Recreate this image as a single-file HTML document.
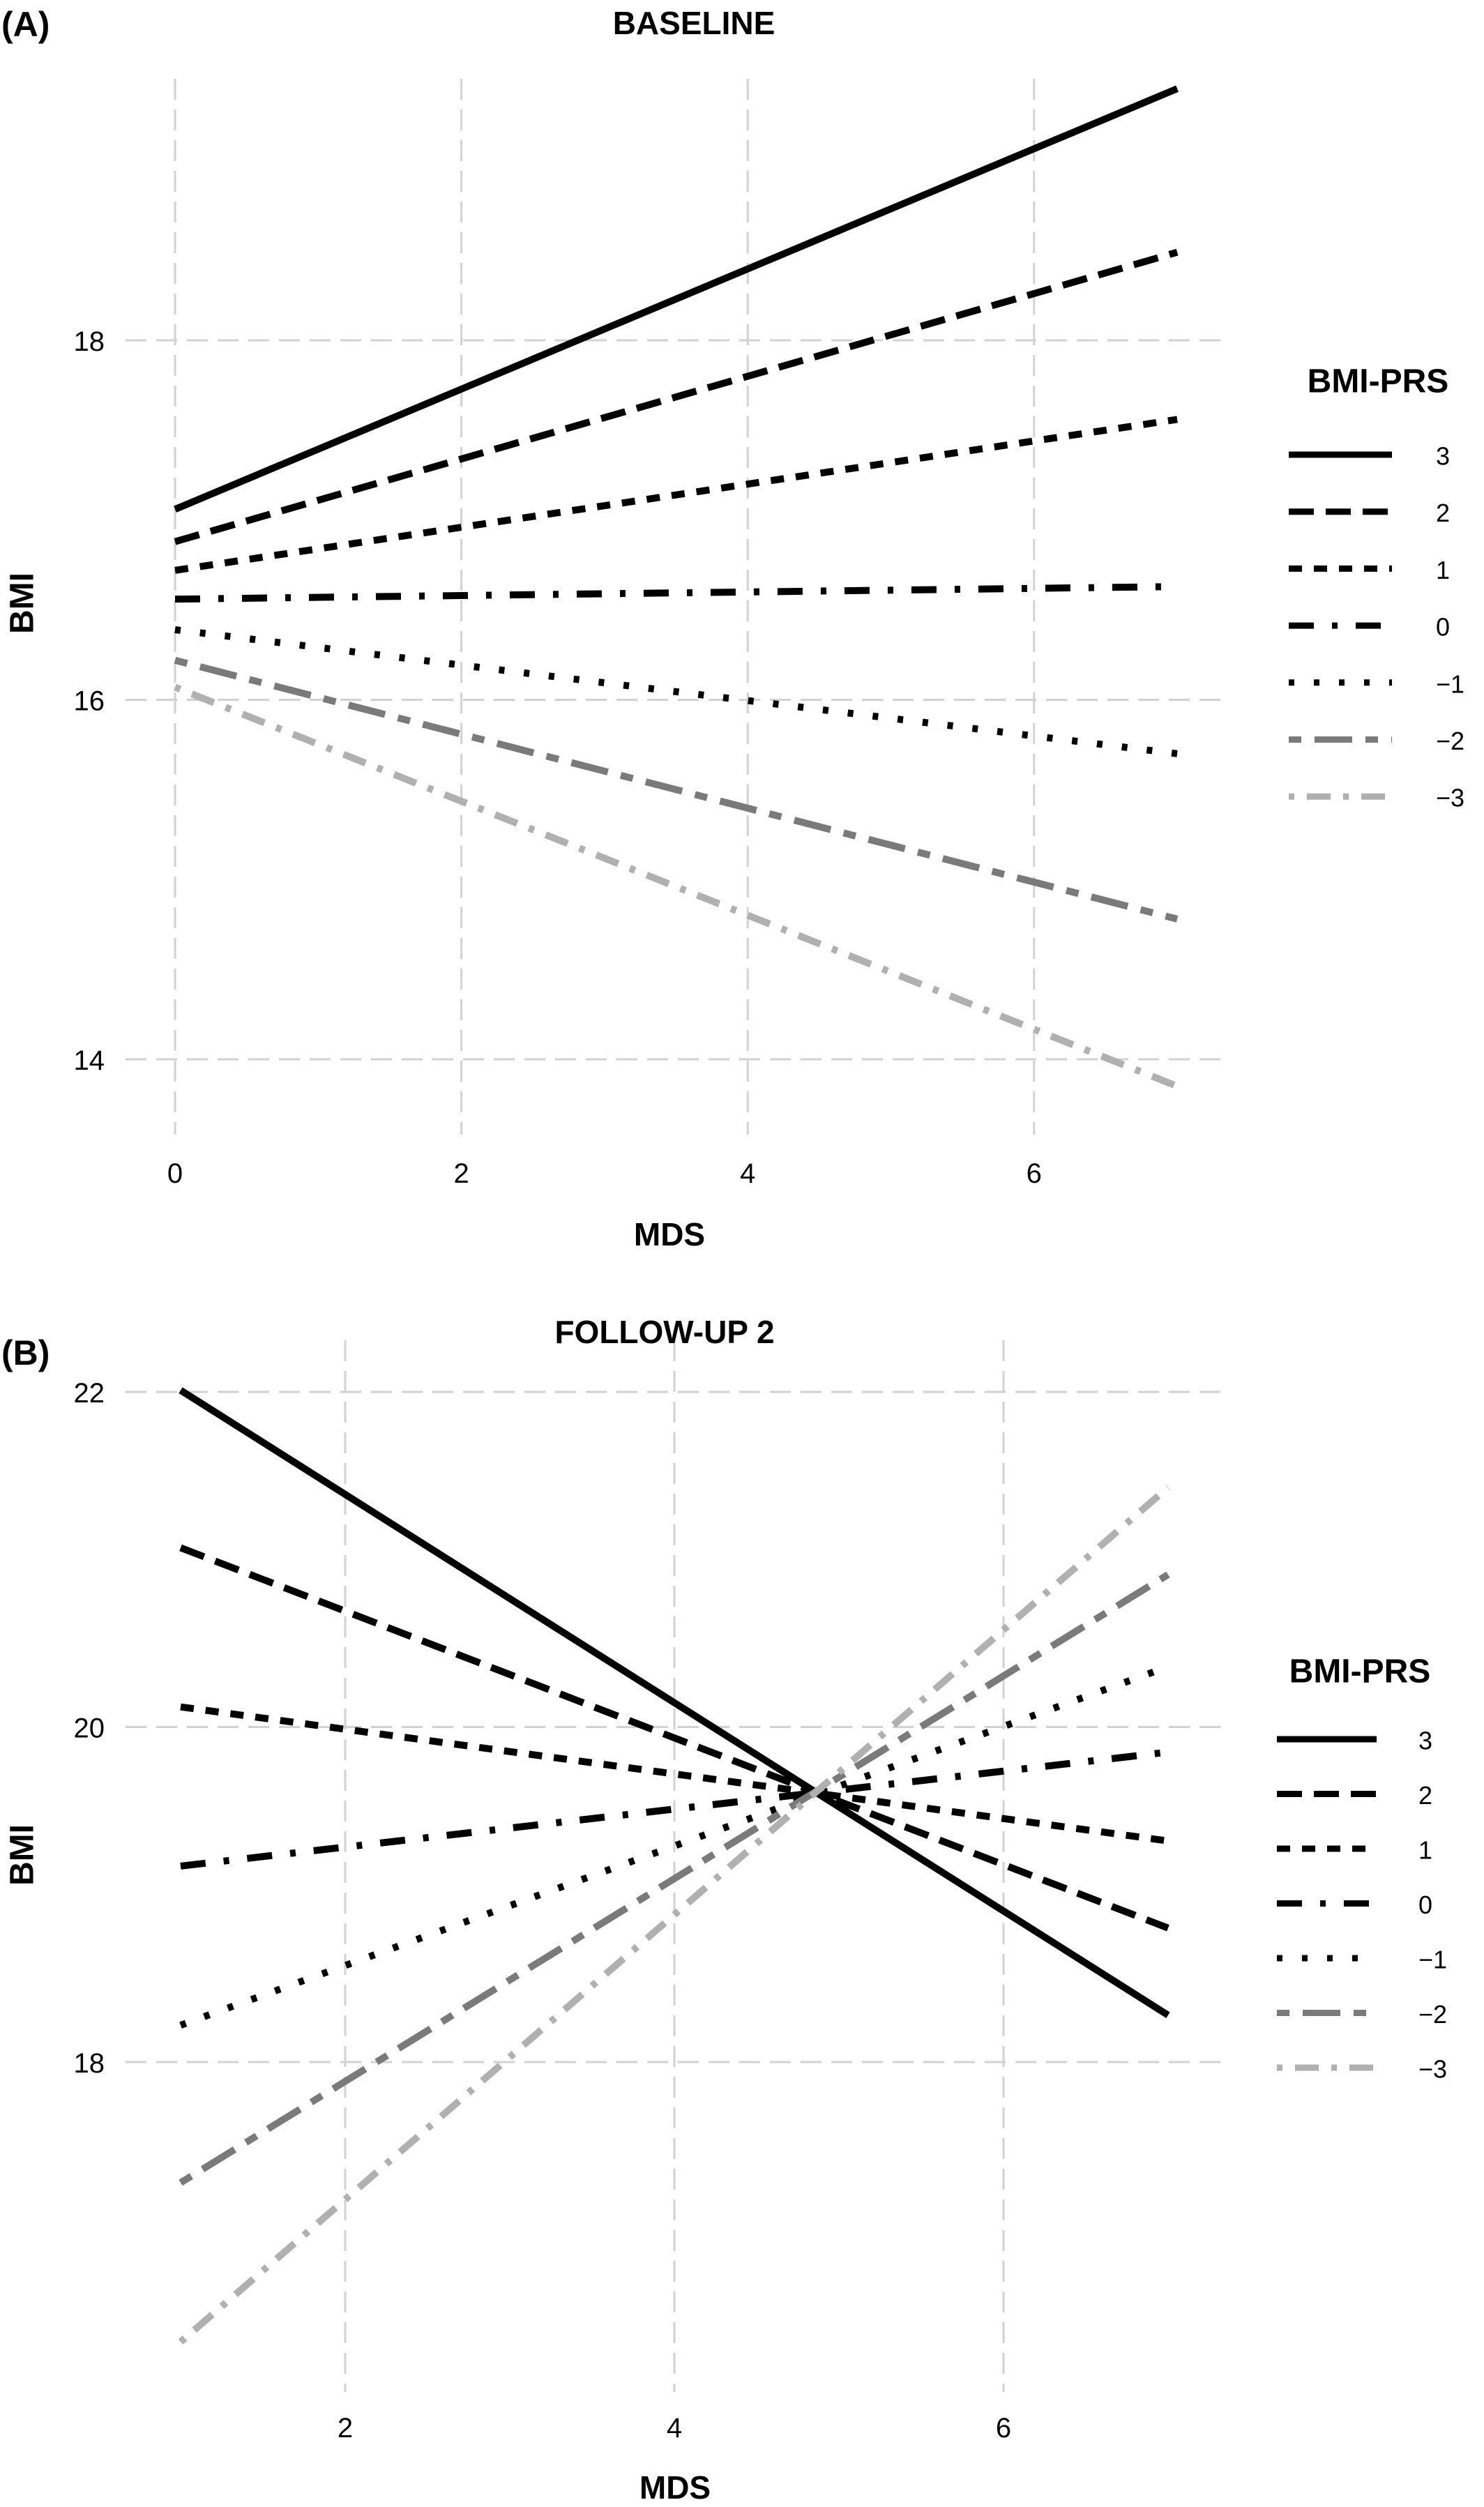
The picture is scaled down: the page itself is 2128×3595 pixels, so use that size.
<!DOCTYPE html>
<html><head><meta charset="utf-8"><style>
html,body{margin:0;padding:0;background:#fff;}
svg{display:block;font-family:"Liberation Sans",sans-serif;}
</style></head><body>
<svg id="fig" width="2128" height="3595" viewBox="0 0 2128 3595" xmlns="http://www.w3.org/2000/svg">
<rect width="2128" height="3595" fill="#fff"/>
<g id="panelA"></g>
<g id="panelB"></g>
</svg>
<script>
const prsLevels = ["3","2","1","0","\u22121","\u22122","\u22123"];
const baselineX = [0, 7];
const baselineAt0 = [17.06, 16.88, 16.72, 16.56, 16.39, 16.22, 16.07];
const baselineAt7 = [19.40, 18.49, 17.56, 16.63, 15.70, 14.78, 13.85];
const baselineXTicks = [0, 2, 4, 6];
const baselineYTicks = [14, 16, 18];
const followX = [1, 7];
const followAt1 = [22.01, 21.07, 20.12, 19.17, 18.22, 17.28, 16.33];
const followAt7 = [18.28, 18.80, 19.32, 19.85, 20.36, 20.91, 21.43];
const followXTicks = [2, 4, 6];
const followYTicks = [18, 20, 22];

const NS = "http://www.w3.org/2000/svg";
const styles = [
  {c:"#000", d:"none"},
  {c:"#000", d:"36,17"},
  {c:"#000", d:"19,17"},
  {c:"#000", d:"36,26,8,26"},
  {c:"#000", d:"8,28"},
  {c:"#7a7a7a", d:"18,19,54,19"},
  {c:"#b0b0b0", d:"8,18,34,18"}
];
function mk(tag, attrs, parent){
  const e = document.createElementNS(NS, tag);
  for (const k in attrs) e.setAttribute(k, attrs[k]);
  parent.appendChild(e); return e;
}
function txt(parent, s, x, y, size, weight, anchor){
  const t = mk("text", {x:x, y:y, "font-size":size, "font-weight":weight, "text-anchor":anchor, "dominant-baseline":"central", fill:"#000"}, parent);
  t.textContent = s; return t;
}
function drawPanel(g, cfg){
  const xs = cfg.xs, ys = cfg.ys;
  // grid
  cfg.yTicks.forEach(v=>{
    const l = mk("line",{x1:cfg.gx0,x2:cfg.gx1,y1:ys(v),y2:ys(v),stroke:"#d2d2d2","stroke-width":3,"stroke-dasharray":"30,14"},g);
    
    
    const t = txt(g, String(v), 150, ys(v)+2, 40, "normal", "end");
    
    
  });
  cfg.xTicks.forEach(v=>{
    const l = mk("line",{x1:xs(v),x2:xs(v),y1:cfg.gy0,y2:cfg.gy1,stroke:"#d2d2d2","stroke-width":3,"stroke-dasharray":"30,14"},g);
    
    
    const t = txt(g, String(v), xs(v), cfg.xLabY, 40, "normal", "middle");
    
    
  });
  // series
  prsLevels.forEach((p,i)=>{
    const st = styles[i];
    const l = mk("line",{x1:xs(cfg.xr[0]),y1:ys(cfg.v0[i]),x2:xs(cfg.xr[1]),y2:ys(cfg.v1[i]),stroke:st.c,"stroke-width":10,"stroke-dasharray":st.d},g);
    
    
  });
  // titles
  let t = txt(g, cfg.tag, 2, cfg.tagY, 50, "bold", "start");
  
  
  t = txt(g, cfg.title, cfg.titleX, cfg.titleY, 46, "bold", "middle");
  
  
  t = txt(g, "MDS", cfg.mdsX, cfg.mdsY, 46, "bold", "middle");
  
  
  t = mk("text",{x:0,y:0,"font-size":48,"font-weight":"bold","text-anchor":"middle","dominant-baseline":"central",transform:"translate(32,"+cfg.bmiY+") rotate(-90)"},g);
  t.textContent = "BMI";
  
  
  // legend
  const lg = mk("g",{},g);
  
  
  t = txt(lg, "BMI-PRS", cfg.legTitleX, cfg.legTitleY, 48, "bold", "middle");
  
  
  prsLevels.forEach((p,i)=>{
    const st = styles[i];
    const y = cfg.legY0 + i*cfg.legDy;
    const e = mk("g",{},lg);
    
    
    mk("line",{x1:cfg.keyX0,x2:cfg.keyX1,y1:y,y2:y,stroke:st.c,"stroke-width":9,"stroke-dasharray":st.d},e);
    txt(e, p, cfg.legLabX, y+2, 36, "normal", "start");
  });
}
drawPanel(document.getElementById("panelA"), {
  xs: v=>251+205.3*v, ys: v=>1003.5-257.75*(v-16),
  xTicks: baselineXTicks, yTicks: baselineYTicks,
  gx0:180, gx1:1757, gy0:113, gy1:1627, xLabY:1683,
  xr: baselineX, v0: baselineAt0, v1: baselineAt7,
  tag:"(A)", tagY:35, title:"BASELINE", titleX:995, titleY:33,
  mdsX:960, mdsY:1770, bmiY:865,
  legTitleX:1976, legTitleY:547, legY0:652, legDy:81.7,
  keyX0:1848, keyX1:1996, legLabX:2059
});
drawPanel(document.getElementById("panelB"), {
  xs: v=>495+236*(v-2), ys: v=>2476.5-240.25*(v-20),
  xTicks: followXTicks, yTicks: followYTicks,
  gx0:180, gx1:1750, gy0:1922, gy1:3430, xLabY:3482,
  xr: followX, v0: followAt1, v1: followAt7,
  tag:"(B)", tagY:1940, title:"FOLLOW-UP 2", titleX:953, titleY:1910,
  mdsX:968, mdsY:3567, bmiY:2660,
  legTitleX:1950, legTitleY:2397, legY0:2494, legDy:78.5,
  keyX0:1831, keyX1:1974, legLabX:2034
});
</script>
</body></html>
